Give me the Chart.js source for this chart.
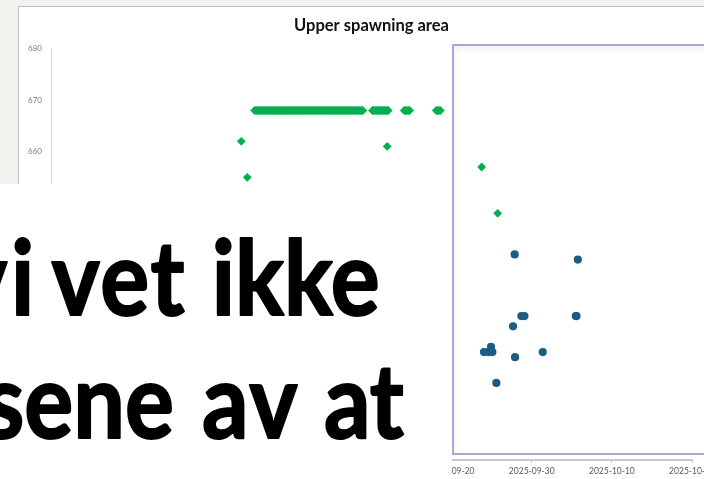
<!DOCTYPE html>
<html><head><meta charset="utf-8">
<script src="https://cdn.jsdelivr.net/npm/chart.js@4/dist/chart.umd.min.js"></script>
<style>
html,body{margin:0;padding:0;width:704px;height:479px;overflow:hidden;background:#f3f2ee;}
#chartbox{position:absolute;left:18px;top:6px;width:720px;height:500px;background:#fff;border-top:1px solid #bcbcbc;border-left:1px solid #bcbcbc;box-sizing:border-box;}
#frame{position:absolute;left:452px;top:44px;width:320px;height:411px;border:2px solid #b3a3cf;box-sizing:border-box;background:#fff;box-shadow:inset 0 3px 6px rgba(0,0,0,0.07);}
#wrap{position:absolute;left:18px;top:6px;width:706px;height:480px;}
#textbox{position:absolute;left:0;top:184px;width:452px;height:300px;background:#fff;overflow:hidden;}
#textbox svg{position:absolute;left:0;top:0;}
.big{font-family:Lato;font-weight:700;font-size:103px;fill:#000;stroke:#000;stroke-width:2px;stroke-linejoin:round;}
</style></head>
<body>
<div id="chartbox"></div>
<div id="frame"></div>
<div id="wrap"><canvas id="c" width="706" height="480"></canvas></div>
<div id="textbox">
<svg width="452" height="300">
<text class="big" y="131" transform="scale(0.89 1)"><tspan x="-46" letter-spacing="4">vi</tspan> <tspan x="58" letter-spacing="2">vet</tspan> <tspan x="238">ikke</tspan></text>
<text class="big" y="254" transform="scale(0.89 1)"><tspan x="-18">sene</tspan> <tspan x="227" letter-spacing="2">av</tspan> <tspan x="364">at</tspan></text>
</svg>
</div>
<script>
const chartTitle = 'Upper spawning area';
const xTickLabels = ['2025-08-01','2025-08-11','2025-08-21','2025-08-31','2025-09-10','2025-09-20','2025-09-30','2025-10-10','2025-10-20'];
const yTickValues = [600,610,620,630,640,650,660,670,680];

const greenDates = [
 '2025-08-24 18:00','2025-08-25 12:00',
 '2025-08-26 10:00','2025-08-26 14:00','2025-08-26 18:00','2025-08-26 22:00',
 '2025-08-27 02:00','2025-08-27 06:00','2025-08-27 10:00','2025-08-27 14:00','2025-08-27 18:00','2025-08-27 22:00',
 '2025-08-28 02:00','2025-08-28 06:00','2025-08-28 10:00','2025-08-28 14:00','2025-08-28 18:00','2025-08-28 22:00',
 '2025-08-29 02:00','2025-08-29 06:00','2025-08-29 10:00','2025-08-29 14:00','2025-08-29 18:00','2025-08-29 22:00',
 '2025-08-30 02:00','2025-08-30 06:00','2025-08-30 10:00','2025-08-30 14:00','2025-08-30 18:00','2025-08-30 22:00',
 '2025-08-31 02:00','2025-08-31 06:00','2025-08-31 10:00','2025-08-31 14:00','2025-08-31 18:00','2025-08-31 22:00',
 '2025-09-01 02:00','2025-09-01 06:00','2025-09-01 10:00','2025-09-01 14:00','2025-09-01 18:00','2025-09-01 22:00',
 '2025-09-02 02:00','2025-09-02 06:00','2025-09-02 10:00','2025-09-02 14:00','2025-09-02 18:00','2025-09-02 22:00',
 '2025-09-03 02:00','2025-09-03 06:00','2025-09-03 10:00','2025-09-03 14:00','2025-09-03 18:00','2025-09-03 22:00',
 '2025-09-04 02:00','2025-09-04 06:00','2025-09-04 10:00','2025-09-04 14:00','2025-09-04 18:00','2025-09-04 22:00',
 '2025-09-05 02:00','2025-09-05 06:00','2025-09-05 10:00','2025-09-05 14:00','2025-09-05 18:00','2025-09-05 22:00',
 '2025-09-06 02:00','2025-09-06 06:00','2025-09-06 10:00','2025-09-06 14:00','2025-09-06 18:00','2025-09-06 22:00',
 '2025-09-07 02:00','2025-09-07 06:00','2025-09-07 10:00','2025-09-07 14:00','2025-09-07 18:00','2025-09-07 22:00',
 '2025-09-08 02:00','2025-09-08 06:00','2025-09-08 10:00','2025-09-08 14:00','2025-09-08 18:00','2025-09-08 22:00',
 '2025-09-10 03:00','2025-09-10 07:00','2025-09-10 11:00','2025-09-10 15:00','2025-09-10 19:00','2025-09-10 23:00',
 '2025-09-11 03:00','2025-09-11 07:00','2025-09-11 11:00','2025-09-11 15:00','2025-09-11 19:00','2025-09-11 23:00',
 '2025-09-12 02:00',
 '2025-09-11 23:00',
 '2025-09-14 02:00','2025-09-14 06:00','2025-09-14 10:00','2025-09-14 14:00','2025-09-14 18:00',
 '2025-09-18 02:00','2025-09-18 06:00','2025-09-18 10:00','2025-09-18 14:00',
 '2025-09-23 18:00','2025-09-25 18:00'
];
const greenValues = [
 662,655,
 668,668,668,668,
 668,668,668,668,668,668,
 668,668,668,668,668,668,
 668,668,668,668,668,668,
 668,668,668,668,668,668,
 668,668,668,668,668,668,
 668,668,668,668,668,668,
 668,668,668,668,668,668,
 668,668,668,668,668,668,
 668,668,668,668,668,668,
 668,668,668,668,668,668,
 668,668,668,668,668,668,
 668,668,668,668,668,668,
 668,668,668,668,668,668,
 668,668,668,668,668,668,
 668,668,668,668,668,668,
 668,
 661,
 668,668,668,668,668,
 668,668,668,668,
 657,648
];

const blueDates = [
 '2025-09-27 21:00','2025-10-05 18:00',
 '2025-09-28 17:00','2025-09-29 02:00','2025-10-05 12:00','2025-10-05 14:00',
 '2025-09-27 16:00',
 '2025-09-24 01:00','2025-09-24 14:00','2025-09-25 02:00','2025-09-24 22:00',
 '2025-09-27 22:00','2025-10-01 09:00','2025-09-25 14:00'
];
const blueValues = [
 640,639,
 628,628,628,628,
 626,
 621,621,621,622,
 620,621,615
];

function toDay(s){
  const [d,t] = s.split(' ');
  const [Y,M,D] = d.split('-').map(Number);
  const [h,m] = (t||'00:00').split(':').map(Number);
  return (Date.UTC(Y,M-1,D,h,m) - Date.UTC(2025,7,1)) / 86400000;
}
const xMin = toDay(xTickLabels[0]);
const xMax = toDay(xTickLabels[xTickLabels.length-1]);

new Chart(document.getElementById('c'), {
  type: 'scatter',
  data: { datasets: [
    { label: 'Green', data: greenDates.map((d,i)=>({x: toDay(d), y: greenValues[i]})),
      pointStyle: 'rectRot', pointRadius: 4.4, backgroundColor: '#00b050', borderColor: '#00b050', borderWidth: 0 },
    { label: 'Blue', data: blueDates.map((d,i)=>({x: toDay(d), y: blueValues[i]})),
      pointStyle: 'circle', pointRadius: 4.1, backgroundColor: '#1b5c82', borderColor: '#1b5c82', borderWidth: 0 }
  ]},
  options: {
    responsive: false, animation: false, events: [],
    layout: { padding: { left: 0, right: 32, top: 0, bottom: 0 } },
    plugins: {
      legend: { display: false }, tooltip: { enabled: false },
      title: { display: true, fullSize: false, text: chartTitle, color: '#111111',
        font: { family: 'Lato', size: 16.5, weight: 'bold' }, padding: { top: 10, bottom: 13 } }
    },
    scales: {
      x: { type: 'linear', min: xMin, max: xMax,
        afterBuildTicks: s => { s.ticks = xTickLabels.map(l => ({ value: toDay(l) })); },
        afterFit: s => { s.height = 26; },
        ticks: { callback: (v,i) => xTickLabels[i], font: { family: 'Lato', size: 8.5 }, color: '#595959', padding: 3, maxRotation: 0, autoSkip: false },
        grid: { drawOnChartArea: false, drawTicks: true, tickLength: 3, color: '#c8c8c8', lineWidth: 1 },
        border: { display: true, color: '#c8c8c8', width: 2 } },
      y: { min: 600, max: 680,
        afterBuildTicks: s => { s.ticks = yTickValues.map(v => ({ value: v })); },
        afterFit: s => { s.width = 33; },
        ticks: { font: { family: 'Lato', size: 8 }, color: '#7f7f7f', padding: 9 },
        grid: { display: false, drawTicks: false },
        border: { display: true, color: '#d9d9d9', width: 1 } }
    }
  }
});
</script>
</body></html>
